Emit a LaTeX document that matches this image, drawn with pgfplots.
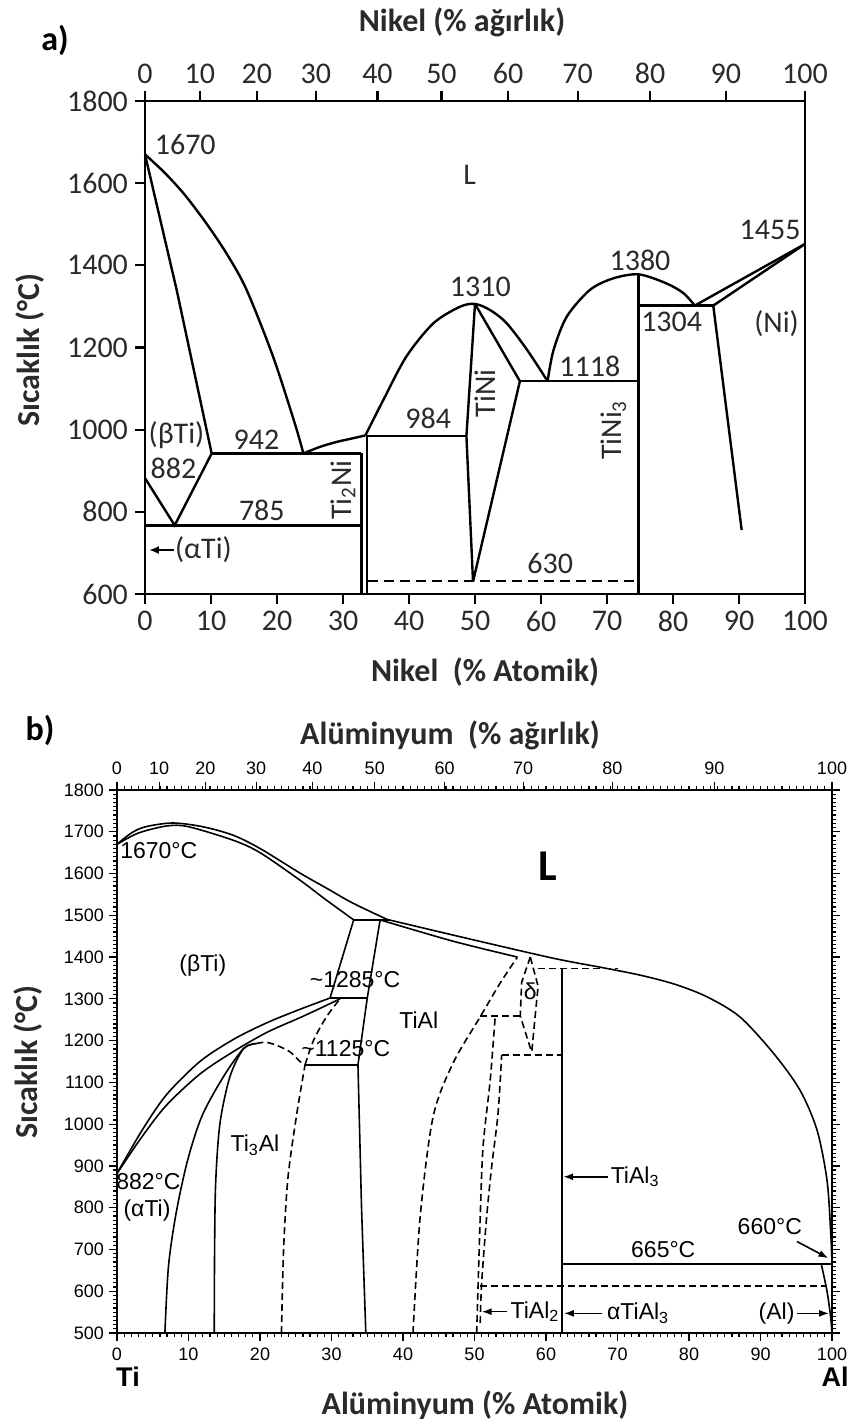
\documentclass[border=0pt]{standalone}
\usepackage{fontspec}
\setmainfont{Carlito}
\newfontfamily\arialfont{Liberation Sans}
\usepackage{pgfplots}
\pgfplotsset{compat=1.18}
\usetikzlibrary{arrows.meta}
\definecolor{tx}{HTML}{2A2A2A}
\newcommand{\fa}{\fontsize{15}{15}\selectfont}
\newcommand{\fb}{\arialfont\fontsize{11.5}{11.5}\selectfont}
\begin{document}
\begin{tikzpicture}
\path (0pt,0pt) rectangle (428.5pt,714pt);
% ================= panel a =================
\begin{axis}[at={(72.5pt,417pt)}, anchor=south west, scale only axis,
  width=330pt, height=246.5pt,
  xmin=0,xmax=100,ymin=600,ymax=1800,
  xtick={0,10,...,100}, ytick={600,800,...,1800},
  xtick pos=bottom, ytick pos=left, tick align=outside, major tick length=5pt,
  axis line style={line width=1.3pt},
  every tick/.style={line width=1.1pt,black},
  /pgf/number format/assume math mode=true, /pgf/number format/1000 sep={},
  ticklabel style={font=\fa, text=tx},
  clip=false,
  la/.style={line width=1.2pt, black, solid, no marks},
  da/.style={line width=1.2pt, black, dash pattern=on 5pt off 3pt, no marks}]
\addplot[la,smooth] coordinates {(0,1670)(3,1625)(6,1572)(9.3,1502)(12.5,1425)(15.4,1340)(19.4,1178)(22.7,1015)(24,942)};
\addplot[la] coordinates {(0,1670)(4.8,1340)(10.1,942)};
\addplot[la] coordinates {(0,882)(4.5,767)(10.1,942)};
\addplot[la] coordinates {(0,767)(32.8,767)};
\addplot[la] coordinates {(10.1,942)(32.8,942)};
\addplot[la,smooth] coordinates {(24,942)(26.5,958)(29,970)(31.5,979)(33.4,986)};
\addplot[la] coordinates {(32.8,942)(32.8,600)};
\addplot[la] coordinates {(33.6,986)(33.6,600)};
\addplot[la] coordinates {(33.6,984)(48.7,984)};
\addplot[la,smooth] coordinates {(33.4,986)(36.1,1072)(39.6,1178)(43.7,1259)(47.7,1299)(50,1306)(52.3,1291)(54.8,1259)(57.9,1194)(61,1118)};
\addplot[la] coordinates {(50,1306)(48.7,984)(49.7,630)};
\addplot[la] coordinates {(50,1306)(56.8,1118)(49.7,630)};
\addplot[la] coordinates {(56.8,1118)(74.8,1118)};
\addplot[la,smooth] coordinates {(61,1118)(61.9,1194)(63.9,1275)(67.4,1340)(70.9,1368)(74.8,1378)(79,1356)(81.6,1332)(83.3,1302)};
\addplot[la] coordinates {(74.8,1378)(74.8,600)};
\addplot[la] coordinates {(74.8,1302)(86.1,1302)};
\addplot[la] coordinates {(83.3,1302)(100,1452)};
\addplot[la] coordinates {(86.1,1302)(100,1452)};
\addplot[la] coordinates {(86.1,1302)(90.4,756)};
\addplot[da] coordinates {(33.8,632)(74.5,632)};
\begin{scope}[font=\fa, text=tx]
\node at (axis cs:6.1,1693) {1670};
\node at (axis cs:49.2,1620) {L};
\node at (axis cs:50.8,1347) {1310};
\node at (axis cs:75,1413) {1380};
\node at (axis cs:94.7,1486) {1455};
\node at (axis cs:79.8,1263) {1304};
\node at (axis cs:95.7,1259) {(Ni)};
\node at (axis cs:67.4,1153) {1118};
\node[rotate=90] at (axis cs:51.5,1088) {TiNi};
\node[rotate=90] at (axis cs:71,999) {TiNi\textsubscript{3}};
\node[rotate=90] at (axis cs:30,853) {Ti\textsubscript{2}Ni};
\node at (axis cs:61.4,675) {630};
\node at (axis cs:42.9,1028) {984};
\node at (axis cs:16.9,975) {942};
\node[anchor=west,inner sep=0pt] at (axis cs:0.5,987) {(βTi)};
\node[anchor=west,inner sep=0pt] at (axis cs:0.8,906) {882};
\node at (axis cs:17.7,804) {785};
\node[anchor=west,inner sep=0pt] at (axis cs:4.5,707) {(αTi)};
\end{scope}
\draw[line width=1pt,-{Latex[length=5pt,width=4pt]}] (axis cs:4.4,707) -- (axis cs:0.6,707);
\end{axis}
\begin{axis}[at={(72.5pt,417pt)}, anchor=south west, scale only axis,
  width=330pt, height=246.5pt,
  xmin=0,xmax=100,ymin=600,ymax=1800,
  axis x line*=top, axis y line=none,
  xtick={0,8.309,16.936,25.900,35.221,44.920,55.022,65.553,76.538,88.009,100},
  xticklabels={0,10,20,30,40,50,60,70,80,90,100},
  tick align=outside, major tick length=5pt,
  axis line style={line width=1.3pt},
  every tick/.style={line width=1.1pt,black},
  ticklabel style={font=\fa, text=tx}]
\addplot[draw=none, forget plot] coordinates {(0,600)(100,1800)};
\end{axis}
\node[font=\fontsize{17}{17}\selectfont\bfseries] at (27.5pt,694pt) {a)};
\node[font=\fontsize{16}{16}\selectfont\bfseries, text=tx] at (231pt,703pt) {Nikel (\% ağırlık)};
\node[font=\fontsize{16}{16}\selectfont\bfseries, text=tx] at (242.5pt,378pt) {Nikel~ (\% Atomik)};
\node[font=\fontsize{16}{16}\selectfont\bfseries, text=tx, rotate=90] at (15pt,539pt) {Sıcaklık (°C)};
% ================= panel b =================
\begin{axis}[at={(58.5pt,47.5pt)}, anchor=south west, scale only axis,
  width=357.5pt, height=271.5pt,
  xmin=0,xmax=100,ymin=500,ymax=1800,
  xtick={0,10,...,100}, minor xtick={0,1,...,100},
  ytick={500,600,...,1800}, minor y tick num=9,
  xtick pos=bottom, tick align=outside,
  major tick length=4pt, minor tick length=2pt,
  axis line style={line width=0.8pt},
  every tick/.style={line width=0.6pt,black},
  /pgf/number format/assume math mode=true, /pgf/number format/1000 sep={},
  ticklabel style={font=\arialfont\fontsize{9}{9}\selectfont},
  yticklabel style={xshift=1pt},
  clip=false,
  lb/.style={line width=0.8pt, black, solid, no marks},
  dsh/.style={line width=0.8pt, black, dash pattern=on 3.5pt off 2pt, no marks}]
\addplot[lb,smooth] coordinates {(0,1670)(2,1697)(4,1712)(7.8,1721)(12,1712)(16.2,1692)(20,1660)(25.6,1601)(29.3,1565)(33,1529)(37.8,1490)};
\addplot[lb,smooth] coordinates {(37.8,1490)(48.9,1445)(60,1401)(64,1387)(67.5,1376)(73.1,1357)(78,1335)(82.5,1305)(87.1,1257)(91.8,1170)(95.5,1082)(97.9,986)(99.3,866)(99.8,747)(100,668)};
\addplot[lb,smooth] coordinates {(0,1670)(3,1697)(7,1714)(10,1712)(16.2,1680)(20,1650)(25.6,1584)(29,1540)(33.1,1489)};
\addplot[lb] coordinates {(33.1,1489)(38,1489)};
\addplot[lb,smooth] coordinates {(36.8,1489)(47,1438)(56,1400)};
\addplot[lb] coordinates {(33.1,1489)(29.8,1302)};
\addplot[lb] coordinates {(36.8,1489)(35,1302)(33.7,1142)(34.2,800)(34.8,500)};
\addplot[lb,smooth] coordinates {(0,882)(3.5,985)(6.9,1070)(11.6,1150)(16.3,1203)(21,1243)(25.6,1275)(29.8,1302)};
\addplot[lb,smooth] coordinates {(0,882)(3.5,970)(6.9,1045)(11.6,1120)(16.3,1174)(21,1220)(25.6,1255)(28.5,1278)(31.2,1300)};
\addplot[lb] coordinates {(29.8,1302)(35,1302)};
\addplot[lb] coordinates {(26.3,1142)(33.7,1142)};
\addplot[lb,smooth] coordinates {(6.7,500)(7.2,660)(8.3,790)(9.9,915)(11.9,1020)(14.9,1114)(17.7,1181)(19.5,1193)};
\addplot[lb,smooth] coordinates {(13.6,500)(13.65,700)(13.8,860)(14.4,1002)(15.8,1114)(17.7,1181)(19.5,1193)};
\addplot[dsh,smooth] coordinates {(23,500)(23.3,700)(23.9,870)(25.1,1020)(26.3,1142)};
\addplot[dsh,smooth] coordinates {(19.5,1193)(20.8,1196)(22.3,1189)(24.2,1173)(25.6,1150)(26.3,1142)};
\addplot[dsh,smooth] coordinates {(26.3,1142)(27.5,1201)(29.3,1257)(31.2,1300)};
\addplot[dsh,smooth] coordinates {(41.4,500)(42.4,778)(44.2,1017)(47,1146)(50.8,1257)(53.6,1338)(56,1400)};
\addplot[dsh] coordinates {(50.8,1259)(56.4,1259)};
\addplot[dsh] coordinates {(57.8,1400)(56.6,1340)(56.4,1259)(58,1172)};
\addplot[dsh] coordinates {(57.8,1400)(58.9,1330)(58.7,1297)(58,1172)};
\addplot[dsh] coordinates {(53.8,1166)(62.2,1166)};
\addplot[dsh] coordinates {(58.9,1373)(70,1373)};
\addplot[dsh,smooth] coordinates {(50.3,500)(50.8,778)(51.2,947)(52.2,1106)(52.9,1259)};
\addplot[dsh,smooth] coordinates {(50.8,524)(51,620)(51.7,778)(52.4,898)(53.3,1027)(53.8,1166)};
\addplot[dsh] coordinates {(50.8,613)(99.3,613)};
\addplot[lb] coordinates {(62.2,1373)(62.2,500)};
\addplot[lb] coordinates {(62.2,665)(100,665)};
\addplot[lb,smooth] coordinates {(98.5,665)(99.3,600)(99.8,540)(100,500)};
\begin{scope}[font=\fb]
\node[anchor=west,inner sep=0pt] at (axis cs:0.4,1655) {1670°C};
\node at (axis cs:12,1380) {(βTi)};
\node at (axis cs:33.3,1345) {\textasciitilde1285°C};
\node at (axis cs:32,1180) {\textasciitilde1125°C};
\node at (axis cs:42.2,1249) {TiAl};
\node at (axis cs:57.8,1317) {δ};
\node at (axis cs:19.3,950) {Ti\textsubscript{3}Al};
\node at (axis cs:4.4,862) {882°C};
\node at (axis cs:4.2,792) {(αTi)};
\node[anchor=west,inner sep=0pt] at (axis cs:69,874) {TiAl\textsubscript{3}};
\node at (axis cs:76.4,699) {665°C};
\node at (axis cs:91.3,754) {660°C};
\node[anchor=west,inner sep=0pt] at (axis cs:68.5,547) {αTiAl\textsubscript{3}};
\node[anchor=east,inner sep=0pt] at (axis cs:94.8,547) {(Al)};
\node[anchor=west,inner sep=0pt] at (axis cs:55,551) {TiAl\textsubscript{2}};
\end{scope}
\node[font=\fontsize{22}{22}\selectfont\bfseries] at (axis cs:60.3,1618) {L};
\begin{scope}[line width=0.8pt,-{Latex[length=5pt,width=3.5pt]}]
\draw (axis cs:68.7,874) -- (axis cs:62.4,874);
\draw (axis cs:95.1,719) -- (axis cs:99.5,679);
\draw (axis cs:67.9,547) -- (axis cs:62.5,547);
\draw (axis cs:95.1,547) -- (axis cs:99.6,547);
\draw (axis cs:54.5,551) -- (axis cs:51,551);
\end{scope}
\end{axis}
\begin{axis}[at={(58.5pt,47.5pt)}, anchor=south west, scale only axis,
  width=357.5pt, height=271.5pt,
  xmin=0,xmax=100,ymin=500,ymax=1800,
  axis x line*=top, axis y line=none,
  xtick={0,5.894,12.352,19.458,27.315,36.049,45.815,56.808,69.275,83.534,100},
  xticklabels={0,10,20,30,40,50,60,70,80,90,100},
  minor xtick={0,1,...,100},
  tick align=outside, major tick length=4pt, minor tick length=2pt,
  axis line style={line width=0.8pt},
  every tick/.style={line width=0.6pt,black},
  ticklabel style={font=\arialfont\fontsize{9}{9}\selectfont}]
\addplot[draw=none, forget plot] coordinates {(0,500)(100,1800)};
\end{axis}
\node[font=\fontsize{17}{17}\selectfont\bfseries] at (20pt,349pt) {b)};
\node[font=\fontsize{16}{16}\selectfont\bfseries, text=tx] at (225pt,346.5pt) {Alüminyum~ (\% ağırlık)};
\node[font=\fontsize{16}{16}\selectfont\bfseries, text=tx] at (237.5pt,11.5pt) {Alüminyum (\% Atomik)};
\node[font=\fontsize{16}{16}\selectfont\bfseries, text=tx, rotate=90] at (14pt,183pt) {Sıcaklık (°C)};
\node[font=\arialfont\bfseries\fontsize{13.5}{13.5}\selectfont] at (64pt,25.5pt) {Ti};
\node[font=\arialfont\bfseries\fontsize{13.5}{13.5}\selectfont] at (417.5pt,25.5pt) {Al};
\end{tikzpicture}
\end{document}
